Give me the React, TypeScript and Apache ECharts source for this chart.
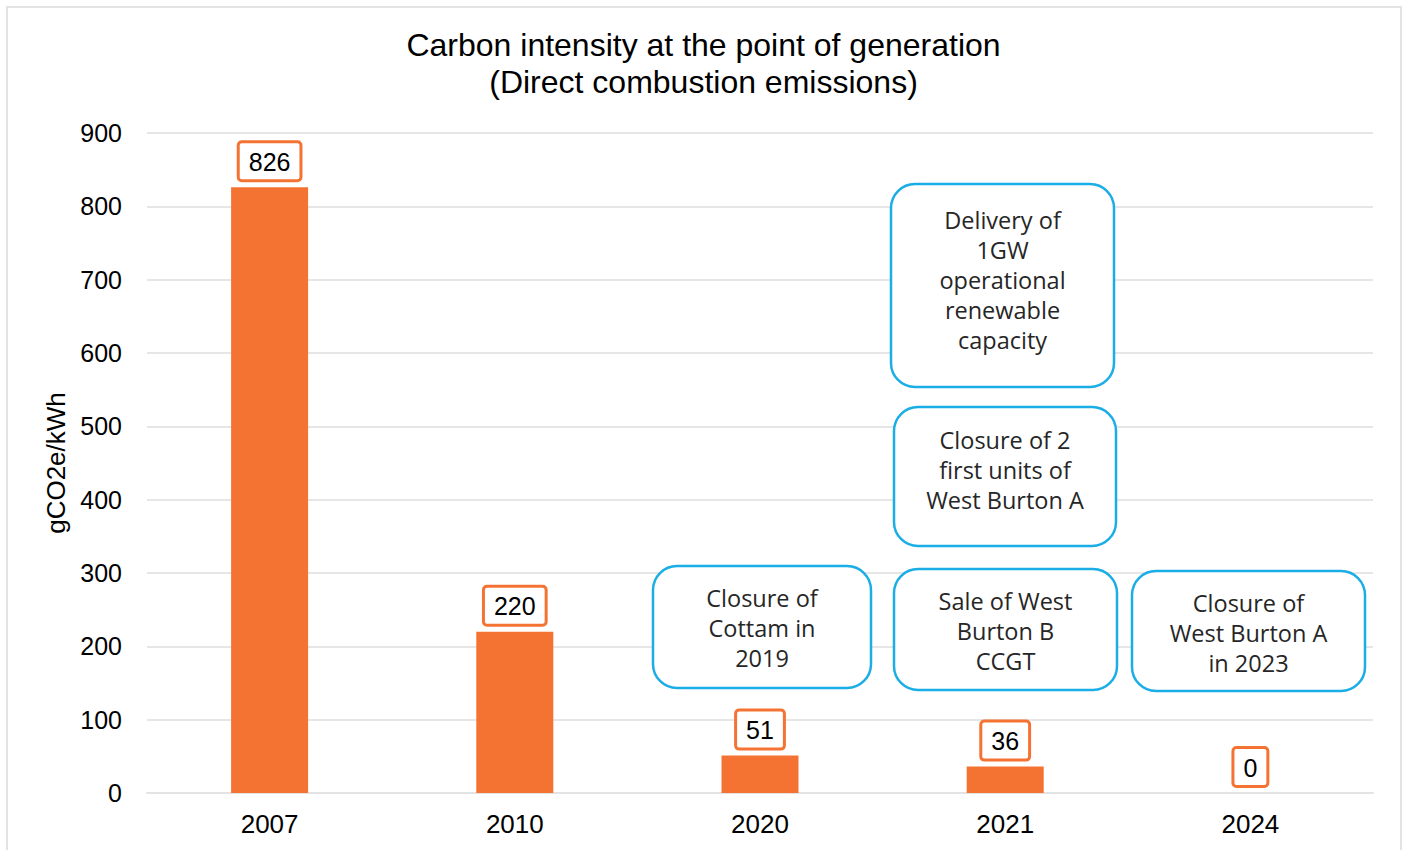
import React, { useEffect, useRef } from "react";
import * as echarts from "echarts";

const categories = ["2007", "2010", "2020", "2021", "2024"];
const values = [826, 220, 51, 36, 0];
const yTicks = { min: 0, max: 900, interval: 100 };
const titleLines = ["Carbon intensity at the point of generation", "(Direct combustion emissions)"];
const yAxisName = "gCO2e/kWh";
const annotations = [
  { text: "Delivery of\n1GW\noperational\nrenewable\ncapacity", x: 891, y: 184, w: 223, h: 203, cy: 280 },
  { text: "Closure of 2\nfirst units of\nWest Burton A", x: 894, y: 407, w: 222, h: 139, cy: 470 },
  { text: "Closure of\nCottam in\n2019", x: 653, y: 566, w: 218, h: 122, cy: 628 },
  { text: "Sale of West\nBurton B\nCCGT", x: 894, y: 569, w: 223, h: 121, cy: 631 },
  { text: "Closure of\nWest Burton A\nin 2023", x: 1132, y: 571, w: 233, h: 120, cy: 633 },
];

const ORANGE = "#F47333";
const BLUE = "#1AADE6";
const FONT = "'Liberation Sans', Arial, sans-serif";

export default function App() {
  const ref = useRef<HTMLDivElement>(null);
  useEffect(() => {
    if (!ref.current) return;
    const chart = echarts.init(ref.current, null, { renderer: "svg" });
    const graphics: any[] = [
      {
        type: "rect",
        z: -10,
        silent: true,
        shape: { x: 7, y: 7, width: 1394, height: 860 },
        style: { fill: "none", stroke: "#e3e3e3", lineWidth: 2 },
      },
    ];
    annotations.forEach((a) => {
      graphics.push({
        type: "rect",
        z: 10,
        shape: { x: a.x, y: a.y, width: a.w, height: a.h, r: 24 },
        style: { fill: "#ffffff", stroke: BLUE, lineWidth: 2.5 },
      });
      graphics.push({
        type: "text",
        z: 11,
        x: a.x + a.w / 2,
        y: a.cy,
        style: {
          text: a.text,
          font: "23.5px 'Open Sans', Lato, sans-serif",
          fill: "#262626",
          textAlign: "center",
          textVerticalAlign: "middle",
          lineHeight: 30,
        },
      });
    });
    chart.setOption({
      animation: false,
      backgroundColor: "#ffffff",
      title: {
        text: titleLines.join("\n"),
        left: "center",
        top: 26,
        padding: 0,
        textStyle: {
          fontFamily: FONT,
          fontSize: 32,
          fontWeight: "normal",
          color: "#000",
          lineHeight: 37,
        },
      },
      grid: { left: 147, right: 34, top: 133, bottom: 57, containLabel: false },
      xAxis: {
        type: "category",
        data: categories,
        axisLine: { show: true, lineStyle: { color: "#e3e3e3", width: 2 } },
        axisTick: { show: false },
        axisLabel: { fontFamily: FONT, fontSize: 26, color: "#000", margin: 18 },
      },
      yAxis: {
        type: "value",
        min: yTicks.min,
        max: yTicks.max,
        interval: yTicks.interval,
        name: yAxisName,
        nameLocation: "middle",
        nameGap: 77,
        nameTextStyle: { fontFamily: FONT, fontSize: 26, color: "#000" },
        axisLine: { show: false },
        axisTick: { show: false },
        axisLabel: { fontFamily: FONT, fontSize: 25, color: "#000", margin: 25 },
        splitLine: { lineStyle: { color: "#e6e6e6", width: 2 } },
      },
      series: [
        {
          type: "bar",
          data: values,
          barWidth: 77,
          itemStyle: { color: ORANGE },
          label: {
            show: true,
            position: "top",
            distance: 8,
            fontFamily: FONT,
            fontSize: 25,
            color: "#000",
            backgroundColor: "#fff",
            borderColor: ORANGE,
            borderWidth: 3,
            borderRadius: 2,
            padding: [6, 9, 5, 9],
          },
        },
      ],
      graphic: graphics,
    });
    return () => chart.dispose();
  }, []);
  return (
    <div
      ref={ref}
      style={{ position: "fixed", left: 0, top: 0, width: 1407, height: 850 }}
    />
  );
}
